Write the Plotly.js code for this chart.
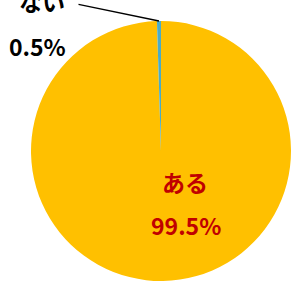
<!DOCTYPE html>
<html><head><meta charset="utf-8">
<script src="https://cdn.plot.ly/plotly-3.0.1.min.js"></script>
<style>body{margin:0;padding:0;background:#fff}#c{width:292px;height:287px}</style>
</head><body><div id="c"></div>
<script>
var labels = ["ある", "ない"];
var values = [99.5, 0.5];
var pctText = ["99.5%", "0.5%"];
var colors = ["#FFC000", "#4BACC6"];

var W = 292, H = 287;
function px(x){return x/W;}
function py(y){return 1 - y/H;}
var font = "Noto Sans CJK JP, Noto Sans, sans-serif";

var data = [{
  type: "pie",
  labels: labels,
  values: values,
  sort: false,
  direction: "clockwise",
  rotation: 0,
  textinfo: "none",
  hoverinfo: "none",
  marker: {colors: colors, line: {width: 0}},
  domain: {x: [px(31), px(291)], y: [py(281), py(21)]},
  showlegend: false
}];

var layout = {
  width: W, height: H,
  margin: {l: 0, r: 0, t: 0, b: 0},
  paper_bgcolor: "#fff",
  showlegend: false,
  annotations: [
    {x: px(159), y: py(21), xref: "paper", yref: "paper", text: "", showarrow: true,
     arrowhead: 0, arrowwidth: 1.3, arrowcolor: "#000", ax: -82, ay: -17, standoff: 0, startstandoff: 0},
    {x: px(42), y: py(0), xref: "paper", yref: "paper", text: "<b>" + labels[1] + "</b>", showarrow: false,
     font: {family: font, size: 23, color: "#000"}, xanchor: "center", yanchor: "top", yshift: 18},
    {x: px(37), y: py(46), xref: "paper", yref: "paper", text: "<b>" + pctText[1] + "</b>", showarrow: false,
     font: {family: font, size: 23, color: "#000"}, xanchor: "center", yanchor: "middle"},
    {x: px(185), y: py(182), xref: "paper", yref: "paper", text: "<b>" + labels[0] + "</b>", showarrow: false,
     font: {family: font, size: 23, color: "#C00000"}, xanchor: "center", yanchor: "middle"},
    {x: px(186), y: py(225), xref: "paper", yref: "paper", text: "<b>" + pctText[0] + "</b>", showarrow: false,
     font: {family: font, size: 23, color: "#C00000"}, xanchor: "center", yanchor: "middle"}
  ]
};
Plotly.newPlot("c", data, layout, {staticPlot: true});
</script></body></html>
